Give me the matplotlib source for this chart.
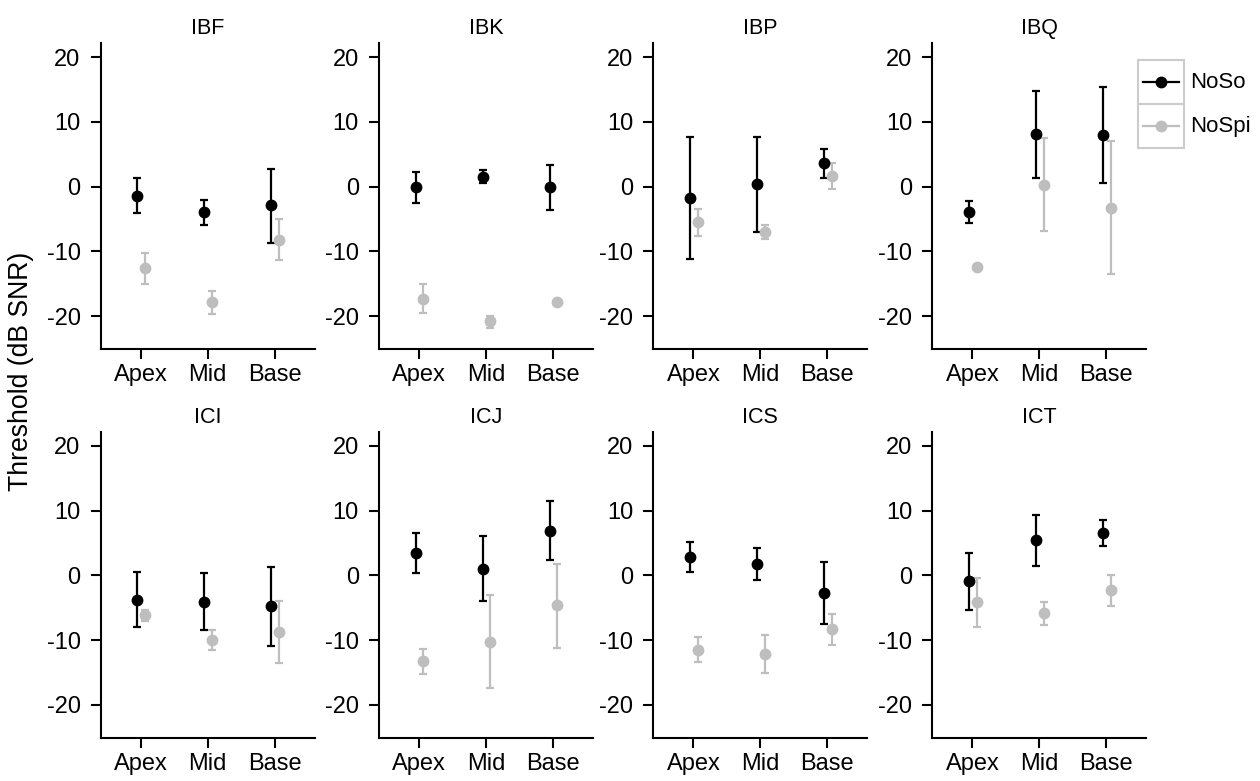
import numpy as np
import matplotlib
matplotlib.use('Agg')
import matplotlib.pyplot as plt
from matplotlib.patches import Rectangle
from matplotlib.lines import Line2D

plt.rcParams['font.family'] = ['Liberation Sans', 'DejaVu Sans']
plt.rcParams['axes.unicode_minus'] = False

# data: thresholds (dB SNR) with error bar bounds
regions = ['Apex', 'Mid', 'Base']
subjects = ['IBF', 'IBK', 'IBP', 'IBQ', 'ICI', 'ICJ', 'ICS', 'ICT']

noso_mean = [[-1.4, -3.9, -2.9], [-0.1, 1.5, -0.1], [-1.8, 0.4, 3.6], [-4.0, 8.1, 8.0],
             [-3.8, -4.2, -4.8], [3.5, 1.0, 6.8], [2.8, 1.8, -2.7], [-0.9, 5.5, 6.6]]
noso_lo = [[-4.1, -5.9, -8.7], [-2.5, 0.6, -3.6], [-11.2, -7.0, 1.4], [-5.7, 1.4, 0.6],
           [-8.0, -8.5, -11.0], [0.4, -4.0, 2.3], [0.5, -0.7, -7.6], [-5.4, 1.5, 4.6]]
noso_hi = [[1.3, -2.0, 2.7], [2.3, 2.5, 3.4], [7.7, 7.6, 5.8], [-2.3, 14.8, 15.4],
           [0.5, 0.3, 1.3], [6.5, 6.1, 11.5], [5.2, 4.2, 2.0], [3.5, 9.4, 8.5]]

nospi_mean = [[-12.6, -17.9, -8.2], [-17.3, -20.7, -17.8], [-5.5, -7.0, 1.7], [-12.5, 0.3, -3.3],
              [-6.2, -10.0, -8.7], [-13.3, -10.3, -4.6], [-11.5, -12.2, -8.3], [-4.2, -5.9, -2.3]]
nospi_lo = [[-15.1, -19.7, -11.4], [-19.5, -21.8, -18.1], [-7.6, -8.1, -0.3], [-12.8, -6.9, -13.5],
            [-7.1, -11.5, -13.6], [-15.2, -17.4, -11.2], [-13.4, -15.1, -10.7], [-8.0, -7.7, -4.8]]
nospi_hi = [[-10.2, -16.1, -5.0], [-15.1, -20.0, -17.5], [-3.4, -5.9, 3.7], [-12.2, 7.5, 7.0],
            [-5.4, -8.4, -4.0], [-11.4, -3.1, 1.8], [-9.6, -9.3, -6.0], [-0.4, -4.2, 0.1]]

W, H = 1260, 781
fig = plt.figure(figsize=(W / 100, H / 100), dpi=100)

lefts = [100.7, 379, 653.3, 932.3]
tops = [43, 431.7]
aw, ah = 214, 306
grey = '#BEBEBE'

def style_axes(ax):
    ax.spines['right'].set_visible(False)
    ax.spines['top'].set_visible(False)
    ax.spines['left'].set_linewidth(1.5)
    ax.spines['bottom'].set_linewidth(1.5)
    ax.tick_params(axis='both', length=7, width=1.5, labelsize=17, colors='black')
    ax.tick_params(axis='x', pad=4)
    ax.tick_params(axis='y', pad=7.5)

x = np.arange(1, 4)
for k, name in enumerate(subjects):
    r, c = divmod(k, 4)
    ax = fig.add_axes([lefts[c] / W, 1 - (tops[r] + ah) / H, aw / W, ah / H])
    series = [(noso_mean, noso_lo, noso_hi, 'black', -0.05),
              (nospi_mean, nospi_lo, nospi_hi, grey, 0.065)]
    for mean, lo, hi, col, dx in series:
        m = np.array(mean[k])
        err = np.vstack([m - np.array(lo[k]), np.array(hi[k]) - m])
        ax.errorbar(x + dx, m, yerr=err, fmt='o', color=col, ms=7.5,
                    elinewidth=1.6, capsize=2.6, capthick=1.6)
    ax.set_xlim(0.4, 3.6)
    ax.set_ylim(-25.1, 22.2)
    ax.set_xticks(x)
    ax.set_xticklabels(regions)
    ax.set_yticks([-20, -10, 0, 10, 20])
    ax.set_title(name, fontsize=15.5, pad=6.2)
    style_axes(ax)

fig.text(21 / W, 1 - 371 / H, 'Threshold (dB SNR)', rotation=90, fontsize=19.2,
         ha='center', va='center')

# legend drawn as ggplot-style keys with grey borders
key_x, key_w, key_h, key_top = 1138.3, 45.7, 44.2, 60
for i, (lab, col) in enumerate([('NoSo', 'black'), ('NoSpi', grey)]):
    y0 = key_top + i * key_h
    fig.patches.append(Rectangle((key_x / W, 1 - (y0 + key_h) / H), key_w / W, key_h / H,
                                 transform=fig.transFigure, fill=False,
                                 edgecolor='#CCCCCC', linewidth=1.5))
    yc = 1 - (y0 + key_h / 2) / H
    fig.lines.append(Line2D([(key_x + 5) / W, (key_x + key_w - 5) / W], [yc, yc],
                            transform=fig.transFigure, color=col, linewidth=1.6))
    fig.lines.append(Line2D([(key_x + key_w / 2) / W], [yc], transform=fig.transFigure,
                            color=col, marker='o', ms=7.5, linestyle='none'))
    fig.text((key_x + key_w + 6) / W, yc, lab, fontsize=16, ha='left', va='center')

fig.savefig('out.png', dpi=100)
